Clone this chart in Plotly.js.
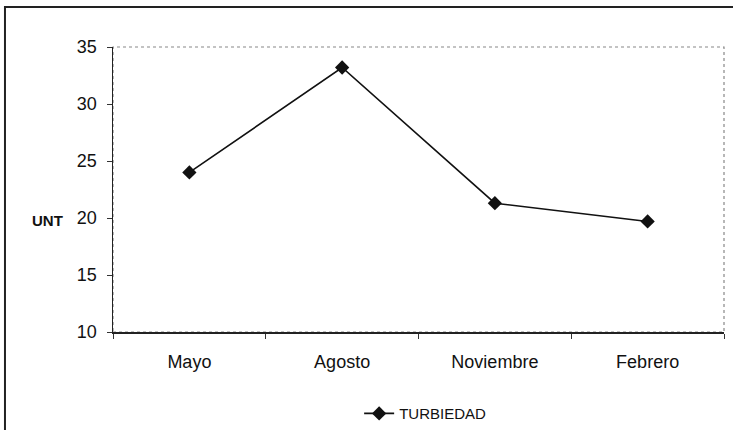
<!DOCTYPE html>
<html>
<head>
<meta charset="utf-8">
<script src="https://cdn.plot.ly/plotly-3.0.1.min.js"></script>
<style>
  html, body { margin: 0; padding: 0; background: #fff; }
  #chart { width: 733px; height: 430px; }
</style>
</head>
<body>
<div id="chart"></div>
<script>
// Turbidity readings per sampling month
const months = ["Mayo", "Agosto", "Noviembre", "Febrero"];
const turbidity = [24.0, 33.2, 21.3, 19.7];
const seriesName = "TURBIEDAD";
const yTicks = [10, 15, 20, 25, 30, 35];
const yUnit = "UNT";

const fontFamily = "Liberation Sans, Arial, sans-serif";

const trace = {
  x: months,
  y: turbidity,
  name: seriesName,
  type: "scatter",
  mode: "lines+markers",
  line: { color: "#111", width: 1.6 },
  marker: { symbol: "diamond", size: 11, color: "#111" }
};

const layout = {
  width: 733,
  height: 430,
  margin: { l: 113, r: 9, t: 47, b: 98, autoexpand: false },
  paper_bgcolor: "#fff",
  plot_bgcolor: "#fff",
  font: { family: fontFamily, color: "#111" },
  showlegend: true,
  legend: {
    orientation: "h",
    xref: "container",
    yref: "container",
    x: 0.58,
    xanchor: "center",
    y: 0.038,
    yanchor: "middle",
    font: { size: 15, family: fontFamily, color: "#111" },
    bgcolor: "rgba(0,0,0,0)"
  },
  xaxis: {
    type: "category",
    range: [-0.5, 3.5],
    tickson: "boundaries",
    ticks: "outside",
    ticklen: 5,
    tickcolor: "#333",
    showline: true,
    linecolor: "#222",
    linewidth: 1.5,
    showgrid: false,
    zeroline: false,
    automargin: false,
    ticklabelstandoff: 13,
    tickfont: { size: 18, family: fontFamily, color: "#111" },
    fixedrange: true
  },
  yaxis: {
    range: [10, 35],
    tickvals: yTicks,
    ticks: "outside",
    ticklen: 5,
    tickcolor: "#333",
    showline: true,
    linecolor: "#222",
    linewidth: 1.5,
    showgrid: false,
    zeroline: false,
    automargin: false,
    ticklabelstandoff: 6,
    tickfont: { size: 18, family: fontFamily, color: "#111" },
    fixedrange: true
  },
  shapes: [
    // dotted frame around the plotting area
    {
      type: "rect", xref: "paper", yref: "paper",
      x0: 0, x1: 1, y0: 0, y1: 1,
      line: { color: "#888", width: 1.2, dash: "dot" },
      layer: "below"
    },
    // outer chart border
    {
      type: "rect", xref: "paper", yref: "paper",
      x0: -0.1768, x1: 1.06, y0: -0.5, y1: 1.1404,
      line: { color: "#222", width: 2 },
      layer: "below"
    }
  ],
  annotations: [
    {
      text: "<b>" + yUnit + "</b>",
      xref: "paper", yref: "paper",
      x: -0.1075, y: 0.391,
      xanchor: "center", yanchor: "middle",
      showarrow: false,
      font: { size: 15, family: fontFamily, color: "#111" }
    }
  ]
};

Plotly.newPlot("chart", [trace], layout, { displayModeBar: false, staticPlot: true });
</script>
</body>
</html>
